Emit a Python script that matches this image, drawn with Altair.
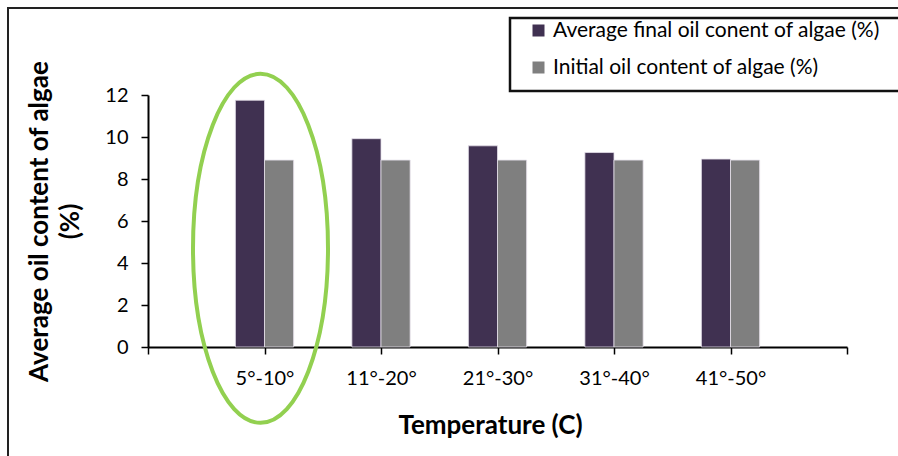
import json
import altair as alt
import pandas as pd

# ---- data ----
categories = ["5°-10°", "11°-20°", "21°-30°", "31°-40°", "41°-50°"]
series_names = ["Average final oil conent of algae (%)", "Initial oil content of algae (%)"]
final_oil = [11.75, 9.92, 9.58, 9.26, 8.95]
initial_oil = [8.9, 8.9, 8.9, 8.9, 8.9]
series_colors = ["#403151", "#7f7f7f"]
y_ticks = [0, 2, 4, 6, 8, 10, 12]

rows = []
for i, c in enumerate(categories):
    rows.append({"category": c, "idx": i + 1, "series": series_names[0], "order": 0, "value": final_oil[i]})
    rows.append({"category": c, "idx": i + 1, "series": series_names[1], "order": 1, "value": initial_oil[i]})
df = pd.DataFrame(rows)

# layout (pixels)
W, H = 699, 252
PL, PT = 148, 95
PR, PB = 898 - PL - W, 456 - PT - H

FONT = "Lato"
tick_labels = [""] + categories + [""]
label_expr = json.dumps(tick_labels) + "[datum.value]"

x_scale = alt.Scale(domain=[0, len(categories) + 1], nice=False, zero=False)
y_scale = alt.Scale(domain=[0, 12], nice=False)

bars = (
    alt.Chart(df)
    .transform_calculate(x0="datum.idx - 0.25 + datum.order * 0.25", x1="datum.idx + datum.order * 0.25")
    .mark_bar(stroke="#e4e0ea", strokeWidth=0.8)
    .encode(
        x=alt.X(
            "x0:Q",
            scale=x_scale,
            axis=alt.Axis(
                values=list(range(len(categories) + 2)),
                labelExpr=label_expr,
                title="Temperature (C)",
                titleFont=FONT,
                titleFontSize=26,
                titleFontWeight="bold",
                titleColor="#000000",
                titleX=342,
                titleY=78,
                titleBaseline="middle",
                labelFont=FONT,
                labelFontSize=20,
                labelColor="#000000",
                labelPadding=14,
                tickSize=7,
                tickColor="#000000",
                tickWidth=1.5,
                domainColor="#000000",
                domainWidth=2,
                grid=False,
                labelFlush=False,
            ),
        ),
        x2="x1:Q",
        y=alt.Y(
            "value:Q",
            scale=y_scale,
            axis=alt.Axis(
                values=y_ticks,
                title=["Average oil content of algae", "(%)"],
                titleFont=FONT,
                titleFontSize=26,
                titleFontWeight="bold",
                titleColor="#000000",
                titleAngle=-90,
                titleAlign="center",
                titleBaseline="top",
                titleX=-122,
                titleY=H / 2,
                titleLineHeight=31,
                labelFont=FONT,
                labelFontSize=20,
                labelColor="#000000",
                labelPadding=13,
                tickSize=7,
                tickColor="#000000",
                tickWidth=1.5,
                domainColor="#000000",
                domainWidth=2,
                grid=False,
            ),
        ),
        y2=alt.datum(0),
        color=alt.Color(
            "series:N",
            scale=alt.Scale(domain=series_names, range=series_colors),
            legend=alt.Legend(
                orient="none",
                legendX=528 - PL,
                legendY=20 - PT,
                title=None,
                symbolType="square",
                symbolSize=144,
                symbolStrokeWidth=0,
                labelFont=FONT,
                labelFontSize=21,
                labelColor="#000000",
                labelOffset=4,
                rowPadding=15,
                padding=0,
                labelLimit=600,
            ),
        ),
    )
)

# frame around whole chart and legend box (decoration)
one = pd.DataFrame({"a": [0]})
frame = alt.Chart(one).mark_rect(fill=None, stroke="#222222", strokeWidth=2).encode(
    x=alt.value(8 - PL), y=alt.value(8 - PT), x2=alt.value(W + PR + 30), y2=alt.value(H + PB + 30)
)
legend_box = alt.Chart(one).mark_rect(fill=None, stroke="#111111", strokeWidth=2.5).encode(
    x=alt.value(510 - PL), y=alt.value(18 - PT), x2=alt.value(W + PR + 30), y2=alt.value(91 - PT)
)

# green highlight ellipse around the first category
ell = pd.DataFrame({"pos": [1], "yc": [4.7]})
rx = 67.5 / 174.5
path = f"M {-rx} 0 A {rx} 1 0 1 0 {rx} 0 A {rx} 1 0 1 0 {-rx} 0 Z"
ellipse = alt.Chart(ell).mark_point(
    shape=path, size=349 ** 2, filled=False, stroke="#92d050", strokeWidth=4, opacity=1, xOffset=-4
).encode(x=alt.X("pos:Q", scale=x_scale), y=alt.Y("yc:Q", scale=y_scale))

chart = (
    alt.layer(frame, legend_box, bars, ellipse)
    .properties(
        width=W,
        height=H,
        autosize=alt.AutoSizeParams(type="none"),
        padding={"left": PL, "top": PT, "right": PR, "bottom": PB},
        background="white",
    )
    .configure_view(stroke=None)
)

chart.save("out.html", embed_options={"renderer": "svg", "actions": False})
